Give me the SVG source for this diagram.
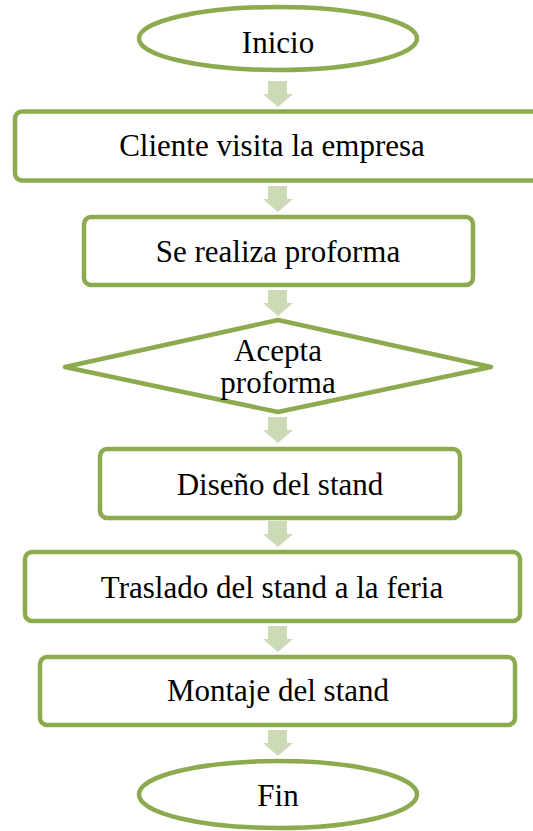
<svg xmlns="http://www.w3.org/2000/svg" width="533" height="831" viewBox="0 0 533 831">
<style>
.box{fill:#fff;stroke:#8DAA4F;stroke-width:4.5}
.t{font-family:"Liberation Serif","Times New Roman",serif;font-size:31px;fill:#000;text-anchor:middle}
.arr{fill:#CCDAB5}
</style>
<defs>
<path id="a" d="M-10,0 H9 V13 H15 L0,26 L-15,13 H-10 Z"/>
</defs>
<rect width="533" height="831" fill="#fff"/>
<g id="connectors">
<use href="#a" class="arr" x="278" y="81"/>
<use href="#a" class="arr" x="278" y="186"/>
<use href="#a" class="arr" x="278" y="290"/>
<use href="#a" class="arr" x="278" y="417"/>
<use href="#a" class="arr" x="278" y="521"/>
<use href="#a" class="arr" x="278" y="626"/>
<use href="#a" class="arr" x="278" y="730"/>
</g>
<g id="inicio">
<ellipse class="box" cx="278" cy="38.5" rx="139" ry="31.5"/>
<text class="t" x="278" y="53">Inicio</text>
</g>
<g id="cliente">
<rect class="box" x="15" y="111.5" width="540" height="69" rx="7"/>
<text class="t" x="272" y="156">Cliente visita la empresa</text>
</g>
<g id="proforma">
<rect class="box" x="84" y="217" width="389" height="68" rx="7"/>
<text class="t" x="278" y="262">Se realiza proforma</text>
</g>
<g id="acepta">
<polygon class="box" points="65,367 278,320 491,367 278,412" stroke-linejoin="round"/>
<text class="t" x="278" y="361">Acepta</text>
<text class="t" x="278" y="393">proforma</text>
</g>
<g id="diseno">
<rect class="box" x="100" y="449" width="360" height="69" rx="7"/>
<text class="t" x="280" y="495">Diseño del stand</text>
</g>
<g id="traslado">
<rect class="box" x="25" y="552" width="495" height="69" rx="7"/>
<text class="t" x="272" y="598">Traslado del stand a la feria</text>
</g>
<g id="montaje">
<rect class="box" x="40" y="657" width="475" height="68" rx="7"/>
<text class="t" x="278" y="701">Montaje del stand</text>
</g>
<g id="fin">
<ellipse class="box" cx="278" cy="794.5" rx="139" ry="33.5"/>
<text class="t" x="278" y="806">Fin</text>
</g>
</svg>
